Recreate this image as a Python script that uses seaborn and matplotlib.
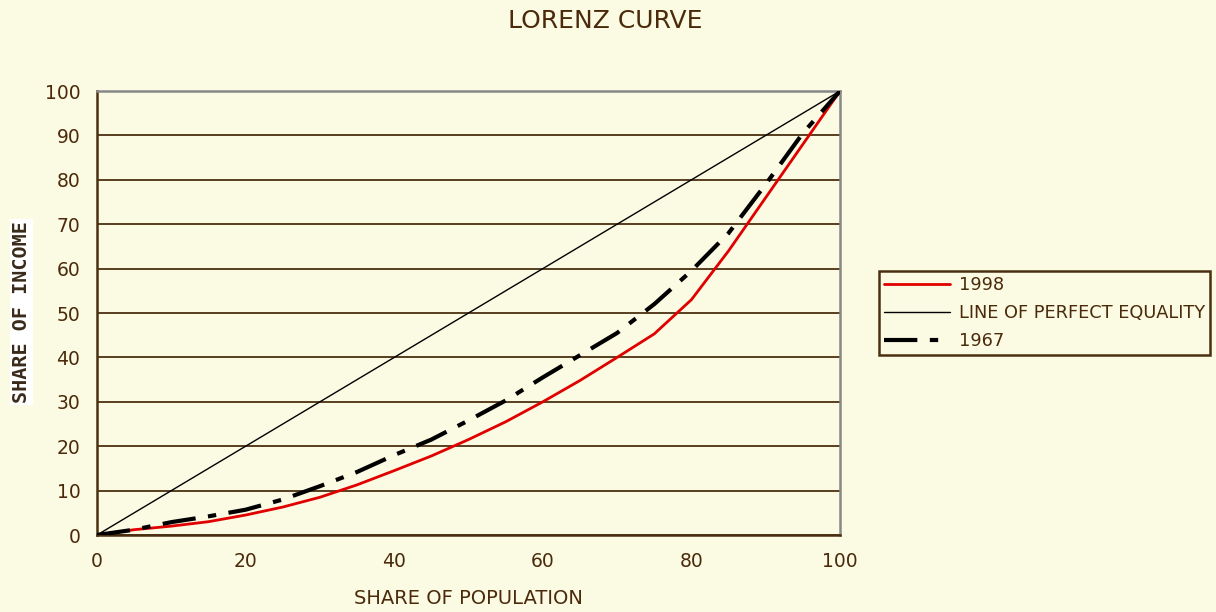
import matplotlib
matplotlib.use("Agg")
import matplotlib.pyplot as plt
import seaborn as sns
import pandas as pd

population = [0, 5, 10, 15, 20, 25, 30, 35, 40, 45, 50, 55, 60, 65, 70, 75, 80, 85, 90, 95, 100]
income_1998 = [0, 1.2, 2.0, 3.0, 4.5, 6.3, 8.5, 11.3, 14.5, 17.8, 21.5, 25.5, 30.0, 34.8, 40.0, 45.3, 53.0, 64.0, 76.0, 88.0, 100]
income_1967 = [0, 1.2, 2.9, 4.2, 5.7, 8.0, 11.0, 14.2, 18.0, 21.5, 25.8, 30.3, 35.5, 40.5, 45.5, 52.0, 59.5, 68.0, 79.0, 90.5, 100]
equality = [0, 100]
equality_x = [0, 100]

BG = "#FBFAE3"
TXT = "#4A2A0A"
GRID = "#4A3010"

sns.set_theme(style="white")
plt.rcParams['font.family'] = ['DejaVu Sans']
plt.rcParams['lines.scale_dashes'] = True

fig = plt.figure(figsize=(12.16, 6.12), dpi=100, facecolor=BG)
ax = fig.add_axes([0.0798, 0.1258, 0.6110, 0.7255])
ax.set_facecolor(BG)

df98 = pd.DataFrame({"x": population, "y": income_1998})
df67 = pd.DataFrame({"x": population, "y": income_1967})
dfeq = pd.DataFrame({"x": equality_x, "y": equality})

sns.lineplot(data=df98, x="x", y="y", ax=ax, color="#E00000", linewidth=2.0, label="1998", zorder=3)
sns.lineplot(data=dfeq, x="x", y="y", ax=ax, color="black", linewidth=1.0, label="LINE OF PERFECT EQUALITY", zorder=3)
sns.lineplot(data=df67, x="x", y="y", ax=ax, color="black", linewidth=3.0, label="1967", zorder=4)
ax.lines[-1].set_linestyle((0, (8, 3, 2, 3)))
ax.lines[-1].set_dash_capstyle("butt")

ax.set_xlim(0, 100)
ax.set_ylim(0, 100)
ax.set_xticks(range(0, 101, 20))
ax.set_yticks(range(0, 101, 10))
ax.yaxis.grid(True, color=GRID, linewidth=1.3)
ax.xaxis.grid(False)
ax.set_axisbelow(True)

for s in ["left", "bottom"]:
    ax.spines[s].set_color(GRID)
    ax.spines[s].set_linewidth(1.8)
for s in ["top", "right"]:
    ax.spines[s].set_color("#888888")
    ax.spines[s].set_linewidth(1.8)

ax.tick_params(axis="both", direction="out", length=6, width=1.5, color=GRID,
               labelcolor=TXT, labelsize=13.5, pad=6)

ax.set_xlabel("SHARE OF POPULATION", color=TXT, fontsize=14, labelpad=13)
ax.set_ylabel("")
fig.text(0.0175, 0.49, "SHARE OF INCOME", rotation=90, ha="center", va="center",
         color="#3A2A1A", fontsize=14.5, fontweight="bold", family="DejaVu Sans Mono",
         bbox=dict(facecolor="white", edgecolor="none", pad=1.5))

fig.suptitle("LORENZ CURVE", x=0.498, y=0.985, color=TXT, fontsize=18)

leg = ax.legend(loc="center left", bbox_to_anchor=(1.052, 0.5), frameon=True, fancybox=False,
                fontsize=12.8, handlelength=3.7, labelspacing=0.55, borderpad=0.3,
                handletextpad=0.5, borderaxespad=0)
leg.get_frame().set_facecolor(BG)
leg.get_frame().set_edgecolor(GRID)
leg.get_frame().set_linewidth(1.8)
leg.get_frame().set_alpha(1)
for t in leg.get_texts():
    t.set_color(TXT)

fig.savefig("out.png", dpi=100, facecolor=BG)
